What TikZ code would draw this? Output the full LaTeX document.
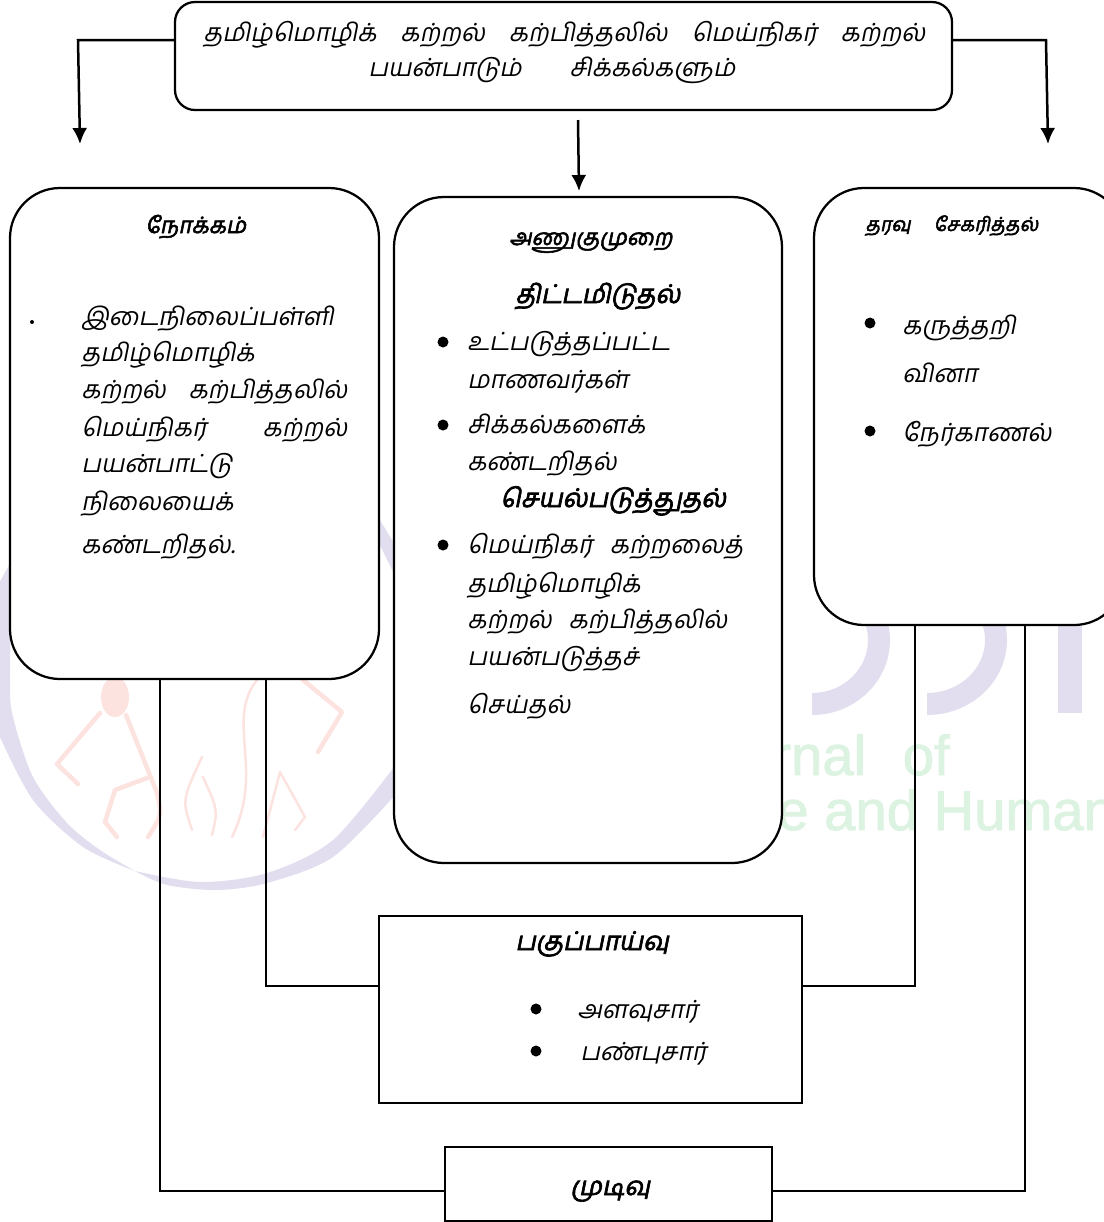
\documentclass[tikz,border=0pt]{standalone}
\usepackage{fontspec}
\usetikzlibrary{arrows.meta}
\newfontfamily\tamilfont[Script=Tamil,AutoFakeSlant=0.2,AutoFakeBold=2.5]{Hind Madurai}
\newfontfamily\wordfont[FakeBold=1.5]{Liberation Sans}
\definecolor{ringcol}{HTML}{E2DEEF}
\definecolor{figcol}{HTML}{FCE3DF}
\definecolor{wordcol}{HTML}{DDF3E1}
\tikzset{
    roundbox/.style={draw, fill=white, rectangle, rounded corners=10mm, line width=.45mm},
    plainbox/.style={draw, fill=white, rectangle, line width=.45mm},
    lbl/.style={anchor=base west, inner sep=0pt, font=\tamilfont\itshape\fontsize{14.2}{16}\selectfont},
    hd/.style={anchor=base west, inner sep=0pt, font=\tamilfont\itshape\bfseries\fontsize{14.7}{16}\selectfont},
    hds/.style={anchor=base west, inner sep=0pt, font=\tamilfont\itshape\bfseries\fontsize{12.8}{14}\selectfont},
    dot/.style={circle, fill, inner sep=0pt, minimum size=2.2mm},
    conn/.style={line width=.5mm},
    arr/.style={line width=.5mm, -{Latex[length=3.2mm,width=3mm]}},
    figline/.style={figcol, line width=.9mm, line join=round, line cap=round},
    word/.style={wordcol, anchor=base west, inner sep=0pt, font=\wordfont\fontsize{32}{34}\selectfont}
}

\begin{document}
\begin{tikzpicture}[x=.2mm, y=-.2mm]
	\clip (0,0) rectangle (1104,1222);
	\fill[white] (0,0) rectangle (1104,1222);

	\fill[ringcol] plot[smooth] coordinates {(12,560) (10,680) (13,717) (33,777) (67,823) (100,850) (135,871)}
		-- plot[smooth] coordinates {(135,871) (83,847) (33,800) (0,737)} -- (-5,737) -- (-5,590) -- cycle;
	\fill[ringcol] plot[smooth] coordinates {(135,871) (167,885) (217,890) (267,883) (333,857) (397,793)}
		-- plot[smooth] coordinates {(397,763) (333,840) (267,873) (200,882) (135,871)} -- cycle;
	\fill[ringcol] (375,512) -- (397,548) -- (397,580) -- (375,535) -- cycle;
	\begin{scope}
		\clip (812,600) rectangle (1104,730);
		\fill[ringcol, even odd rule] (812,640) ellipse (78 and 75) (812,640) ellipse (56 and 53);
	\end{scope}
	\begin{scope}
		\clip (927,600) rectangle (1104,730);
		\fill[ringcol, even odd rule] (927,640) ellipse (80 and 75) (927,640) ellipse (58 and 53);
	\end{scope}
	\fill[ringcol] (1058,620) rectangle (1082,713);
	\fill[figcol] (115,697) ellipse (14 and 20);
	\draw[figline] (100,713) -- (57,764) -- (78,784);
	\draw[figline] (126,715) -- (157,793) .. controls (162,815) .. (148,837);
	\draw[figline] (147,778) -- (115,790) -- (105,822) -- (117,837);
	\draw[figline, line width=.5mm] (202,757) .. controls (182,800) .. (192,830);
	\draw[figline, line width=.5mm] (203,777) .. controls (218,810) .. (212,835);
	\draw[figline, line width=.5mm] (257,680) .. controls (225,720) and (265,770) .. (232,837);
	\draw[figline, line width=.5mm] (295,830) -- (305,817) -- (280,772) -- (263,837);
	\draw[figline] (303,680) -- (342,712) -- (318,752);
	\node[word] (wrd1) at (772,775) {rnal\hspace{12pt} of};
	\node[word] (wrd2) at (777,830) {e and Human};

	\node[roundbox, rounded corners=4mm, minimum width=155.4mm, minimum height=21.6mm] (title) at (563.5,56) {};
	\node[roundbox, minimum width=73.8mm, minimum height=98.2mm] (nokkam) at (194.5,433.5) {};
	\node[roundbox, minimum width=77.6mm, minimum height=133.2mm] (anugu) at (588,530) {};
	\node[roundbox, minimum width=62mm, minimum height=87.4mm] (tharavu) at (969,406.5) {};
	\node[plainbox, minimum width=84.6mm, minimum height=37.4mm] (paguppu) at (590.5,1009.5) {};
	\node[plainbox, minimum width=65.4mm, minimum height=14.8mm] (mudivu) at (608.5,1184) {};

	\coordinate (tl) at (175,40); \coordinate (tr) at (952,40);
	\coordinate (tla) at (78,40); \coordinate (tra) at (1046,40);
	\coordinate (la) at (80,144); \coordinate (ra) at (1048,144);
	\coordinate (ma) at (578,120); \coordinate (mb) at (579,191);
	\coordinate (n1) at (160,679); \coordinate (n2) at (266,679);
	\coordinate (t1) at (915,625); \coordinate (t2) at (1025,625);
	\coordinate (pl) at (379,986); \coordinate (pr) at (802,986);
	\coordinate (ml) at (445,1191); \coordinate (mr) at (772,1191);

	\draw[arr] (tl) -- (tla) -- (la);
	\draw[arr] (tr) -- (tra) -- (ra);
	\draw[arr] (ma) -- (mb);
	\draw[conn] (n1) |- (ml);
	\draw[conn] (n2) |- (pl);
	\draw[conn] (t1) |- (pr);
	\draw[conn] (t2) |- (mr);

	\node[lbl] (t11) at (203,41) {\makebox[144.4mm][s]{தமிழ்மொழிக் கற்றல் கற்பித்தலில் மெய்நிகர் கற்றல்}};
	\node[lbl] (t12) at (368,76) {\makebox[73.4mm][s]{பயன்பாடும் சிக்கல்களும்}};

	\node[hds] (nh) at (145,233) {நோக்கம்};
	\node[dot, minimum size=.8mm] (nd) at (32,322) {};
	\node[lbl] (n11) at (81,325) {இடைநிலைப்பள்ளி};
	\node[lbl] (n12) at (81,361) {தமிழ்மொழிக்};
	\node[lbl] (n13) at (81,398) {\makebox[53.2mm][s]{கற்றல் கற்பித்தலில்}};
	\node[lbl] (n14) at (81,436) {\makebox[53.2mm][s]{மெய்நிகர் கற்றல்}};
	\node[lbl] (n15) at (81,472) {பயன்பாட்டு};
	\node[lbl] (n16) at (81,510) {நிலையைக்};
	\node[lbl] (n17) at (81,553) {கண்டறிதல்.};

	\node[hds] (ah) at (509,245) {அணுகுமுறை};
	\node[hd] (a1) at (515,303) {திட்டமிடுதல்};
	\node[dot] (ad1) at (443,342) {};
	\node[lbl] (a11) at (467,350) {உட்படுத்தப்பட்ட};
	\node[lbl] (a12) at (467,388) {மாணவர்கள்};
	\node[dot] (ad2) at (443,425) {};
	\node[lbl] (a13) at (467,433) {சிக்கல்களைக்};
	\node[lbl] (a14) at (467,470) {கண்டறிதல்};
	\node[hd] (a2) at (500,507) {செயல்படுத்துதல்};
	\node[dot] (ad3) at (443,545) {};
	\node[lbl] (a21) at (467,553) {\makebox[55.2mm][s]{மெய்நிகர் கற்றலைத்}};
	\node[lbl] (a22) at (467,592) {தமிழ்மொழிக்};
	\node[lbl] (a23) at (467,628) {\makebox[52mm][s]{கற்றல் கற்பித்தலில்}};
	\node[lbl] (a24) at (467,665) {பயன்படுத்தச்};
	\node[lbl] (a25) at (467,713) {செய்தல்};

	\node[hds, font=\tamilfont\itshape\bfseries\fontsize{11}{13}\selectfont] (th) at (865,231) {\makebox[34.6mm][s]{தரவு சேகரித்தல்}};
	\node[dot] (td1) at (870,323) {};
	\node[lbl] (t21) at (902,334) {கருத்தறி};
	\node[lbl] (t22) at (902,382) {வினா};
	\node[dot] (td2) at (870,431) {};
	\node[lbl] (t23) at (902,441) {நேர்காணல்};

	\node[hd] (ph) at (515,950) {பகுப்பாய்வு};
	\node[dot] (pd1) at (536,1009) {};
	\node[lbl] (p1) at (577,1018) {அளவுசார்};
	\node[dot] (pd2) at (536,1051) {};
	\node[lbl] (p2) at (580,1060) {பண்புசார்};
	\node[hd] (md) at (570,1195) {முடிவு};
\end{tikzpicture}
\end{document}
